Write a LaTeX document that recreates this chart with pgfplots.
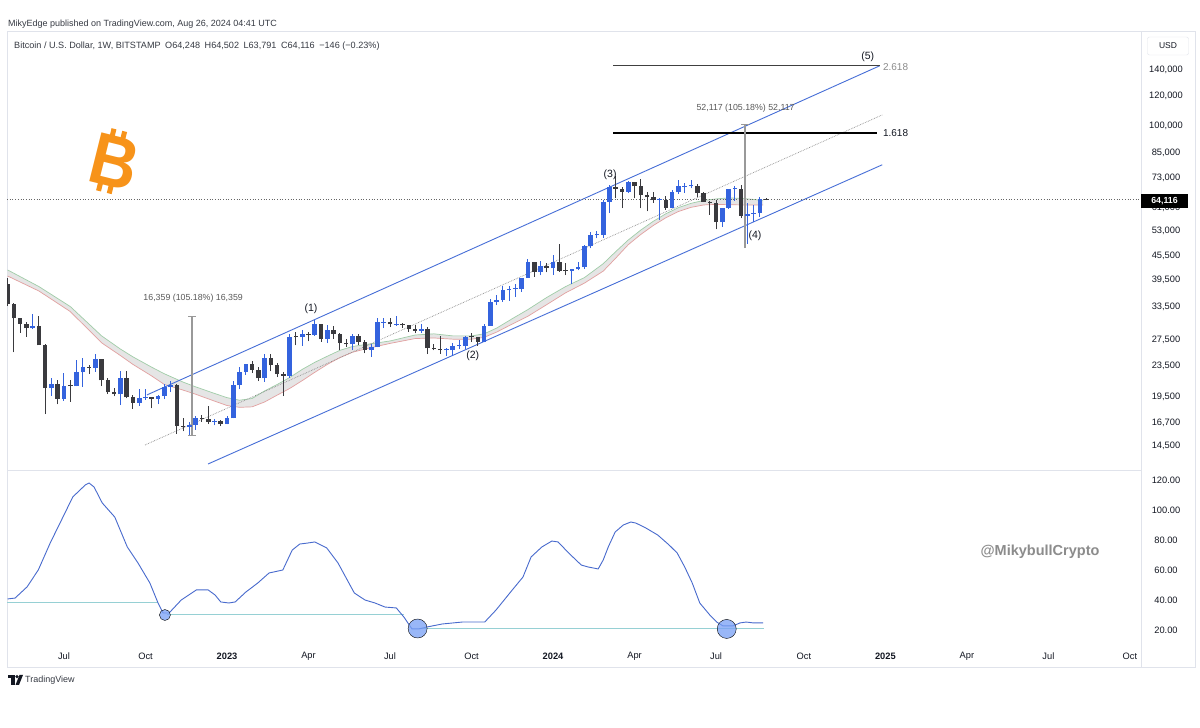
\documentclass[border=0pt]{standalone}
\usepackage{fontspec}
\setmainfont{Liberation Sans}
\usepackage{pgfplots}
\usepackage{pgfplotstable}
\pgfplotsset{compat=1.18}
\usetikzlibrary{arrows.meta}
\definecolor{bull}{RGB}{52,99,222}
\definecolor{bear}{RGB}{58,58,62}
\definecolor{chan}{RGB}{70,110,215}
\definecolor{frame}{RGB}{224,227,235}
\definecolor{txt}{RGB}{19,23,34}
\definecolor{osc}{RGB}{72,106,205}
\definecolor{tealh}{RGB}{150,208,212}
\definecolor{circ}{RGB}{120,160,245}
\definecolor{btc}{RGB}{247,147,26}
\definecolor{maR}{RGB}{226,160,160}
\definecolor{maG}{RGB}{160,205,168}

\pgfplotstableread{
k O H L C
-31 29440 32200 29300 29900
-28 20550 21880 19630 21030
-26 19290 22500 19050 20830
-24 20780 24280 20750 22580
-23 22580 24670 20720 23300
-21 23180 25210 22680 24440
-17 19800 22800 18540 21820
-14 18800 20390 18470 19310
-13 19310 20470 19150 19420
-11 19260 19700 18650 19570
-10 19570 21000 19230 20630
-9 20630 21470 20060 20900
-6 16280 16750 15480 16430
-5 16430 17400 16000 17110
-2 16770 17050 16400 16840
0 16540 17400 16500 17120
1 17120 21440 17120 20880
2 20880 23370 20400 22700
3 22700 23820 22300 23730
6 21780 25230 21370 24630
10 22140 28400 21900 28000
12 27950 29200 26500 28470
14 28330 30970 28200 30300
16 27590 30000 26950 29240
20 26750 28450 25880 28080
23 25850 26800 24800 26340
24 26340 31430 26250 30540
25 30540 31280 29500 30600
27 30170 31800 29950 30250
31 29050 30250 28700 29300
35 25830 26120 24900 25840
36 25840 26900 24920 26530
37 26530 27480 26000 26550
38 26550 28050 26000 27970
41 27150 30300 27110 29930
42 29930 35200 29880 34530
43 34530 35980 33900 35030
44 35030 37980 34550 37060
45 37060 37980 34800 37360
46 37360 38400 35650 37450
47 37450 40000 36700 39970
48 39970 44700 39970 43990
50 41380 44300 40550 43000
52 42280 45900 40750 43950
55 41580 42200 38500 42030
56 42030 43880 41800 42580
57 42580 48600 42250 48300
58 48300 52800 47700 51660
59 51660 52900 50650 51730
60 51730 64000 50900 63110
61 63110 70100 59000 68950
64 67220 71700 66600 71280
69 63860 64700 56500 63900
71 60900 67700 60800 66960
72 66960 71950 66300 69300
73 69300 70600 66700 69450
74 69450 72000 68500 69650
79 55860 61000 54300 60800
80 60800 68400 60600 68250
81 68250 69400 63400 68260
83 58160 62700 49000 58720
84 58720 61800 56100 58900
85 58900 65000 57800 64250
}\bulltab

\pgfplotstableread{
k O H L C
-35 38470 39960 33700 34060
-34 34060 34270 25500 31300
-33 31300 31330 28650 30280
-32 30280 30640 28010 29440
-30 29900 31750 28850 26570
-29 26570 26880 17570 20550
-27 21030 21540 18630 19290
-25 20830 21620 18910 20780
-22 23300 23650 22400 23180
-20 24440 24440 20800 21530
-19 21530 21820 19800 20030
-18 20030 20560 19550 19800
-16 21820 22800 19320 19420
-15 19420 19690 18130 18800
-12 19420 19520 18190 19260
-8 20900 21050 15600 16330
-7 16330 17200 15820 16280
-4 17110 17430 16780 17100
-3 17100 18390 16530 16770
-1 16840 16970 16330 16540
4 23730 24240 22550 22930
5 22930 23340 21420 21780
7 24630 25200 22730 23550
8 23550 23900 21950 22350
9 22350 22600 19570 22140
11 28000 28900 26600 27950
13 28470 28800 27220 28330
15 30300 30330 27150 27590
17 29240 29840 27680 28430
18 28430 28630 25870 26930
19 26930 27650 26350 26750
21 28080 28450 26600 27100
22 27100 27400 25350 25850
26 30600 31400 29700 30170
28 30250 30340 29500 30080
29 30080 30080 28900 29280
30 29280 30000 28600 29050
32 29300 29680 25200 26100
33 26100 26800 25800 26000
34 26000 28150 25300 25830
39 27970 28600 27200 27920
40 27920 27990 26530 27150
49 43990 44000 40200 41380
51 43000 43800 41300 42280
53 43950 49000 41500 41730
54 41730 43580 40600 41580
62 68950 73800 64500 68360
63 68360 68900 60800 67220
65 71280 71300 64500 69360
66 69360 72700 60700 65670
67 65670 66900 59600 64940
68 64940 67200 62800 63860
70 63900 65500 60200 60900
75 69650 70200 65080 66650
76 66650 66950 63200 63230
77 63230 63350 58400 62720
78 62720 63800 53500 55860
82 68260 70000 57200 58160
86 64248 64502 63791 64116
}\beartab

\begin{document}
\begin{tikzpicture}
\path[fill=white] (0pt,0pt) rectangle (1200pt,728pt);
\draw[frame, line width=0.8pt] (7pt,61pt) rectangle (1195pt,697pt);
\draw[frame, line width=0.8pt] (1141pt,61pt) -- (1141pt,697pt);
\draw[frame, line width=0.8pt] (7pt,258pt) -- (1141pt,258pt);

\node[anchor=west, inner sep=0pt, font=\fontsize{9}{10}\selectfont, text=txt!85] at (8pt,704pt) {MikyEdge published on TradingView.com, Aug 26, 2024 04:41 UTC};
\node[anchor=west, inner sep=0pt, font=\fontsize{9.1}{10}\selectfont, text=txt!85] at (14pt,682pt) {Bitcoin / U.S. Dollar, 1W, BITSTAMP\enspace O64,248\enspace H64,502\enspace L63,791\enspace C64,116\enspace −146 (−0.23\%)};

\begin{axis}[at={(7pt,258pt)}, anchor=south west, scale only axis,
  width=1134pt, height=437pt,
  xmin=-35.09, xmax=145.77, ymode=log, ymin=12540, ymax=174900,
  axis line style={draw=none}, tick style={draw=none},
  xtick=\empty,
  ytick={14500,16700,19500,23500,27500,33500,39500,45500,53000,61000,73000,85000,100000,120000,140000},
  yticklabels={{14,500},{16,700},{19,500},{23,500},{27,500},{33,500},{39,500},{45,500},{53,000},{61,000},{73,000},{85,000},{100,000},{120,000},{140,000}},
  yticklabel pos=right,
  yticklabel style={anchor=center, xshift=25pt, font=\fontsize{9.3}{10}\selectfont, text=txt},
  /pgf/number format/assume math mode=true]

\addplot[fill=gray!20, draw=none] coordinates {(-35,41900) (-30,37900) (-25,33600) (-20,28150) (-17,26000) (-15,24800) (-12,23300) (-10,22400) (-7,21300) (-5,20700) (-2,19900) (0,19400) (2,19100) (4,19300) (6,20200) (8,21000) (10,21900) (12,23000) (14,24000) (16,24900) (18,25800) (20,26400) (22,26700) (26,27300) (30,28300) (33,28500) (36,28150) (39,28150) (41,28500) (43,29500) (45.6,31300) (48,33000) (51,35500) (54,37900) (57,40000) (60,43500) (62,46800) (64,50200) (66,53300) (68,56200) (70,58800) (72,61000) (74,62600) (76,63700) (78,64300) (80,64700) (82,64500) (84,64100) (85.5,63600)
(85.5,62000) (84,62000) (82,62000) (80,62100) (78,62200) (76,62000) (74,61100) (72,59600) (70,57400) (68,54800) (66,51900) (64,48800) (62,45000) (60,41600) (57,38700) (54,36500) (51,34000) (48,31700) (45.6,30300) (43,28800) (41,27900) (39,27600) (36,27600) (33,27800) (30,27700) (26,26900) (22,26000) (20,25500) (18,24700) (16,23700) (14,22600) (12,21500) (10,20500) (8,19700) (6,18900) (4,18350) (2,18300) (0,18500) (-2,19000) (-5,19800) (-7,20300) (-10,21000) (-12,22100) (-15,23700) (-17,25000) (-20,27000) (-25,32600) (-30,36900) (-35,40400)} -- cycle;
\addplot[draw=maG, line width=0.7pt] coordinates {(-35,41900) (-30,37900) (-25,33600) (-20,28150) (-17,26000) (-15,24800) (-12,23300) (-10,22400) (-7,21300) (-5,20700) (-2,19900) (0,19400) (2,19100) (4,19300) (6,20200) (8,21000) (10,21900) (12,23000) (14,24000) (16,24900) (18,25800) (20,26400) (22,26700) (26,27300) (30,28300) (33,28500) (36,28150) (39,28150) (41,28500) (43,29500) (45.6,31300) (48,33000) (51,35500) (54,37900) (57,40000) (60,43500) (62,46800) (64,50200) (66,53300) (68,56200) (70,58800) (72,61000) (74,62600) (76,63700) (78,64300) (80,64700) (82,64500) (84,64100) (85.5,63600)};
\addplot[draw=maR, line width=0.7pt] coordinates {(-35,40400) (-30,36900) (-25,32600) (-20,27000) (-17,25000) (-15,23700) (-12,22100) (-10,21000) (-7,20300) (-5,19800) (-2,19000) (0,18500) (2,18300) (4,18350) (6,18900) (8,19700) (10,20500) (12,21500) (14,22600) (16,23700) (18,24700) (20,25500) (22,26000) (26,26900) (30,27700) (33,27800) (36,27600) (39,27600) (41,27900) (43,28800) (45.6,30300) (48,31700) (51,34000) (54,36500) (57,38700) (60,41600) (62,45000) (64,48800) (66,51900) (68,54800) (70,57400) (72,59600) (74,61100) (76,62000) (78,62200) (80,62100) (82,62000) (84,62000) (85.5,62000)};

\addplot[chan, line width=0.9pt] coordinates {(-12.76,19720) (104.1,143500)};
\addplot[chan, line width=0.9pt] coordinates {(-3.03,13000) (104.5,79000)};
\addplot[black!45, densely dotted, line width=0.7pt] coordinates {(-13.08,14580) (104.5,106700)};

\addplot[black!75, line width=0.7pt] coordinates {(61.6,143500) (104.1,143500)};
\addplot[black, line width=1.4pt] coordinates {(61.6,95700) (103.6,95700)};

\addplot[black!60, dotted, line width=0.7pt] coordinates {(-35.09,64116) (145.77,64116)};

\addplot[black!40, line width=1.2pt] coordinates {(-5.6,15480) (-5.6,31570)};
\addplot[black!40, line width=0.8pt] coordinates {(-6.2,15480) (-5.0,15480)};
\addplot[black!40, line width=0.8pt] coordinates {(-6.2,31570) (-5.0,31570)};
\addplot[black!40, line width=1.2pt] coordinates {(82.6,47800) (82.6,100540)};
\addplot[black!40, line width=0.8pt] coordinates {(82.0,100540) (83.2,100540)};

\addplot[draw=none, no markers, error bars/.cd, y dir=plus, y explicit, error mark=none,
  error bar style={draw=bull, line width=1pt}]
  table[x=k, y=L, y error expr=\thisrow{H}-\thisrow{L}] {\bulltab};
\addplot[draw=none, no markers, error bars/.cd, y dir=plus, y explicit, error mark=none,
  error bar style={draw=bull, line width=4.6pt}]
  table[x=k, y=O, y error expr={max(\thisrow{C}-\thisrow{O},0.005*\thisrow{O})}] {\bulltab};
\addplot[draw=none, no markers, error bars/.cd, y dir=plus, y explicit, error mark=none,
  error bar style={draw=bear, line width=1pt}]
  table[x=k, y=L, y error expr=\thisrow{H}-\thisrow{L}] {\beartab};
\addplot[draw=none, no markers, error bars/.cd, y dir=plus, y explicit, error mark=none,
  error bar style={draw=bear, line width=4.6pt}]
  table[x=k, y=C, y error expr={max(\thisrow{O}-\thisrow{C},0.005*\thisrow{C})}] {\beartab};

\node[font=\fontsize{10.5}{11}\selectfont, text=txt] at (axis cs:13.4,33130) {(1)};
\node[font=\fontsize{10.5}{11}\selectfont, text=txt] at (axis cs:39.2,24950) {(2)};
\node[font=\fontsize{10.5}{11}\selectfont, text=txt] at (axis cs:61.1,74500) {(3)};
\node[font=\fontsize{10.5}{11}\selectfont, text=txt] at (axis cs:84.2,51440) {(4)};
\node[font=\fontsize{10.5}{11}\selectfont, text=txt] at (axis cs:102.2,151500) {(5)};
\node[anchor=west, inner sep=0pt, font=\fontsize{10}{11}\selectfont, text=black!45] at (axis cs:104.6,142800) {2.618};
\node[anchor=west, inner sep=0pt, font=\fontsize{10}{11}\selectfont, text=txt] at (axis cs:104.6,95700) {1.618};
\node[font=\fontsize{8.8}{10}\selectfont, text=black!65] at (axis cs:-5.4,35400) {16,359 (105.18\%) 16,359};
\node[font=\fontsize{8.8}{10}\selectfont, text=black!65] at (axis cs:82.7,111300) {52,117 (105.18\%) 52,117};
\end{axis}

\begin{axis}[at={(7pt,83pt)}, anchor=south west, scale only axis,
  width=1134pt, height=175pt,
  xmin=-35.09, xmax=145.77, ymin=10, ymax=126.67,
  axis line style={draw=none}, tick style={draw=none},
  xtick={-26,-13,0,13,26,39,52,65,78,92,105,118,131,144},
  xticklabels={Jul,Oct,\textbf{2023},Apr,Jul,Oct,\textbf{2024},Apr,Jul,Oct,\textbf{2025},Apr,Jul,Oct},
  xticklabel style={anchor=center, yshift=-11pt, font=\fontsize{9.3}{10}\selectfont, text=txt},
  ytick={20,40,60,80,100,120},
  yticklabels={20.00,40.00,60.00,80.00,100.00,120.00},
  yticklabel pos=right,
  yticklabel style={anchor=center, xshift=25pt, font=\fontsize{9.3}{10}\selectfont, text=txt},
  /pgf/number format/assume math mode=true]
\addplot[tealh, line width=1pt] coordinates {(-35.09,38) (-11,38)};
\addplot[tealh, line width=1pt] coordinates {(-9.5,30.5) (28.3,30.5)};
\addplot[tealh, line width=1pt] coordinates {(30.6,20.9) (85.6,20.9)};
\addplot[osc, line width=0.9pt] coordinates {(-35,40.7) (-33.8,41.3) (-31.9,48.7) (-30.1,60) (-28.2,78) (-26.4,93.3) (-24.6,108.7) (-22.6,116.7) (-22,118) (-21.2,115.3) (-19.9,104.7) (-17.9,95.3) (-15.9,75.3) (-14.2,64.7) (-12.3,51.3) (-11,38) (-10.2,31.3) (-9.25,31.3) (-7.3,40) (-4.9,46.7) (-3,46.7) (-1.9,43.3) (-1,38.7) (0.3,38) (1.3,38.7) (3,45.3) (4.9,51.3) (6.7,58) (8.9,60) (10.4,73.3) (11.6,77.3) (12.9,78) (14,78.7) (15.9,74.7) (17.7,64.7) (20.3,44.7) (22,40) (23.6,38) (25.2,35.3) (27,34.7) (28.2,28.7) (29.5,20.7) (30.6,20.7) (31.9,22) (34.3,24) (37.5,25.3) (41.1,25.3) (42.9,33.3) (45.5,46.7) (47.2,55.3) (48.5,68.7) (50.2,75.3) (51.8,79.3) (52.8,78.7) (54.5,71.3) (56.5,63.3) (57.6,62) (59.2,60.7) (60,66.7) (60.8,75.3) (61.9,85.3) (63.2,90) (64.4,92) (65.2,91.3) (66.8,88) (68.7,83.3) (70.5,76.7) (71.8,71.3) (73,62) (74.2,51.3) (75.4,38) (77,30) (78.1,25.3) (79.1,22.7) (80.7,22.7) (81.8,24.7) (82.8,25.3) (84,24.7) (85.5,24.7)};
\addplot[only marks, mark=*, mark size=5.5pt, mark options={fill=circ, draw=none, fill opacity=0.75}] coordinates {(-9.9,30)};
\addplot[only marks, mark=*, mark size=9.5pt, mark options={fill=circ, draw=none, fill opacity=0.75}] coordinates {(30.4,21)};
\addplot[only marks, mark=*, mark size=9.5pt, mark options={fill=circ, draw=none, fill opacity=0.75}] coordinates {(79.7,20.7)};
\end{axis}

% price label box
\node[fill=black, text=white, inner sep=0pt, minimum width=47pt, minimum height=14pt, font=\fontsize{8.8}{10}\selectfont\bfseries] at (1164.5pt,527pt) {64,116};
\node[draw=frame, rounded corners=2pt, minimum width=41pt, minimum height=18pt, inner sep=0pt, font=\fontsize{8.5}{9}\selectfont, text=txt] at (1168pt,682pt) {USD};

% watermark
\node[font=\fontsize{14.5}{15}\selectfont\bfseries, text=black!45] at (1040pt,176pt) {@MikybullCrypto};

% bitcoin logo
\begin{scope}[shift={(115pt,566pt)}, rotate=-14]
\node[text=btc, inner sep=0pt, xscale=0.9, transform shape, font=\fontsize{73}{73}\selectfont\bfseries] at (0pt,0pt) {B};
\draw[btc, line width=5pt] (-9pt,22pt) -- (-9pt,32pt);
\draw[btc, line width=5pt] (2pt,22pt) -- (2pt,32pt);
\draw[btc, line width=5pt] (-9pt,-22pt) -- (-9pt,-32pt);
\draw[btc, line width=5pt] (2pt,-22pt) -- (2pt,-32pt);
\end{scope}

% TradingView footer
\fill[txt] (8pt,53pt) rectangle (14.5pt,49.5pt);
\fill[txt] (11pt,49.6pt) rectangle (14.5pt,43pt);
\fill[txt] (17pt,51.3pt) circle (1.8pt);
\fill[txt] (15.5pt,43pt) -- (19.5pt,53pt) -- (23pt,53pt) -- (19pt,43pt) -- cycle;
\node[anchor=west, inner sep=0pt, font=\fontsize{9}{10}\selectfont, text=txt!85] at (25pt,48pt) {TradingView};
\end{tikzpicture}
\end{document}
